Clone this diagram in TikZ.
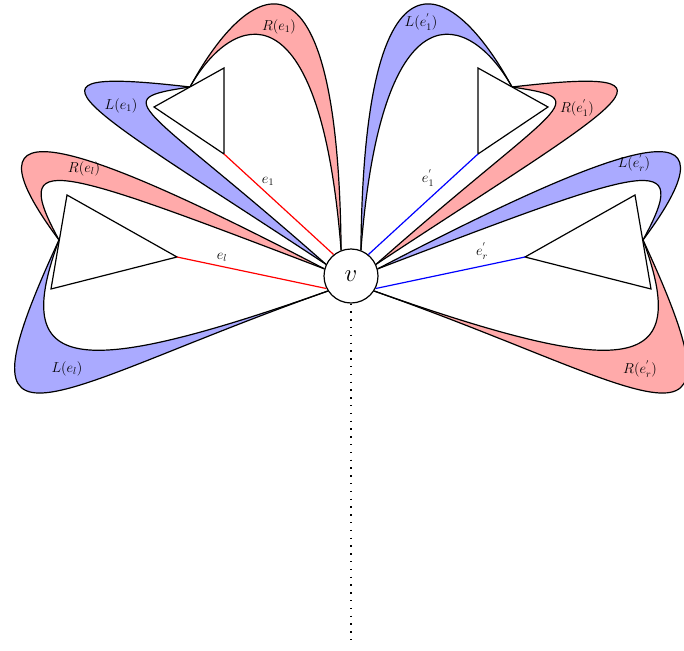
\documentclass[tikz,border=0pt]{standalone}
\usetikzlibrary{backgrounds}
\definecolor{redband}{RGB}{255,170,170}
\definecolor{blueband}{RGB}{170,170,255}
\tikzset{
 curve/.style={line width=1.2pt, line join=round},
 tri/.style={line width=1.2pt, line join=miter, fill=white},
 redfill/.style={fill=redband},
 bluefill/.style={fill=blueband},
 redline/.style={red, line width=1.2pt},
 blueline/.style={blue, line width=1.2pt},
 dotline/.style={line width=1.4pt, dash pattern=on 1.4pt off 6.4pt},
 lbl/.style={font=\fontsize{14.4}{17}\selectfont, inner sep=0pt},
 vnode/.style={circle, draw, line width=1.2pt, fill=white, minimum size=54pt, inner sep=0pt, font=\fontsize{25}{30}\selectfont}
}
\begin{document}
\begin{tikzpicture}[x=1pt,y=-1pt]
\useasboundingbox (0,0) rectangle (684,650);
\node[vnode] (v) at (351,276) {$v$};
% meeting points and triangles
\coordinate (Ml) at (59,240);
\coordinate (M1) at (190,87);
\coordinate (Mr) at (643,240);
\coordinate (M1p) at (512,87);
\coordinate (TlA) at (67,195); \coordinate (TlB) at (177,257); \coordinate (TlC) at (51,289);
\coordinate (T1A) at (224,68); \coordinate (T1B) at (154,107); \coordinate (T1C) at (224,154);
\coordinate (TrA) at (635,195); \coordinate (TrB) at (525,257); \coordinate (TrC) at (651,289);
\coordinate (T1pA) at (478,68); \coordinate (T1pB) at (548,107); \coordinate (T1pC) at (478,154);
\coordinate (dotend) at (351,645);
\begin{pgfonlayer}{background}
% ---- left side ----
% R(e_l)
\fill[redfill] (v.165) .. controls (75,139) and (-45,100) .. (Ml) .. controls (10,150) and (50,164) .. (v.165) -- cycle;
\draw[curve] (v.165) .. controls (75,139) and (-45,100) .. (Ml);
\draw[curve] (v.165) .. controls (50,164) and (10,150) .. (Ml);
% L(e_l)
\fill[bluefill] (v.213) .. controls (48,390) and (-52,480) .. (Ml) .. controls (10,372) and (73,381) .. (v.213) -- cycle;
\draw[curve] (v.213) .. controls (48,390) and (-52,480) .. (Ml);
\draw[curve] (v.213) .. controls (73,381) and (10,372) .. (Ml);
% R(e_1)
\fill[redfill] (v.111) .. controls (338,-75) and (248,-20) .. (M1) .. controls (232,12) and (320,-20) .. (v.111) -- cycle;
\draw[curve] (v.111) .. controls (338,-75) and (248,-20) .. (M1);
\draw[curve] (v.111) .. controls (320,-20) and (232,12) .. (M1);
% L(e_1)
\fill[bluefill] (v.155) .. controls (80,102) and (0,65) .. (M1) .. controls (105,100) and (140,100) .. (v.155) -- cycle;
\draw[curve] (v.155) .. controls (80,102) and (0,65) .. (M1);
\draw[curve] (v.155) .. controls (140,100) and (105,100) .. (M1);
% ---- right side ----
% L(e'_r)
\fill[bluefill] (v.15) .. controls (627,139) and (747,100) .. (Mr) .. controls (692,150) and (652,164) .. (v.15) -- cycle;
\draw[curve] (v.15) .. controls (627,139) and (747,100) .. (Mr);
\draw[curve] (v.15) .. controls (652,164) and (692,150) .. (Mr);
% R(e'_r)
\fill[redfill] (v.-33) .. controls (654,390) and (754,480) .. (Mr) .. controls (692,372) and (629,381) .. (v.-33) -- cycle;
\draw[curve] (v.-33) .. controls (654,390) and (754,480) .. (Mr);
\draw[curve] (v.-33) .. controls (629,381) and (692,372) .. (Mr);
% L(e'_1)
\fill[bluefill] (v.69) .. controls (364,-75) and (454,-20) .. (M1p) .. controls (470,12) and (382,-20) .. (v.69) -- cycle;
\draw[curve] (v.69) .. controls (364,-75) and (454,-20) .. (M1p);
\draw[curve] (v.69) .. controls (382,-20) and (470,12) .. (M1p);
% R(e'_1)
\fill[redfill] (v.25) .. controls (622,102) and (702,65) .. (M1p) .. controls (597,100) and (562,100) .. (v.25) -- cycle;
\draw[curve] (v.25) .. controls (622,102) and (702,65) .. (M1p);
\draw[curve] (v.25) .. controls (562,100) and (597,100) .. (M1p);
% triangles
\draw[tri] (TlA) -- (TlB) -- (TlC) -- cycle;
\draw[tri] (T1A) -- (T1B) -- (T1C) -- cycle;
\draw[tri] (TrA) -- (TrB) -- (TrC) -- cycle;
\draw[tri] (T1pA) -- (T1pB) -- (T1pC) -- cycle;
% edges
\draw[redline] (TlB) -- (v.207);
\draw[redline] (T1C) -- (v.129);
\draw[blueline] (T1pC) -- (v.51);
\draw[blueline] (TrB) -- (v.-27);
\draw[dotline] (v.south) -- (dotend);
\end{pgfonlayer}
% labels
\node[lbl] (lRe1) at (279,27) {$R(e_1)$};
\node[lbl] (lLe1) at (121,106) {$L(e_1)$};
\node[lbl] (lRel) at (84,169) {$R(e_l)$};
\node[lbl] (lLel) at (67,369) {$L(e_l)$};
\node[lbl] (lLe1p) at (421,22) {$L(e_1^{'})$};
\node[lbl] (lRe1p) at (577,108) {$R(e_1^{'})$};
\node[lbl] (lLerp) at (634,163) {$L(e_r^{'})$};
\node[lbl] (lRerp) at (640,369) {$R(e_r^{'})$};
\node[lbl] (le1) at (268,181) {$e_1$};
\node[lbl] (lel) at (222,257) {$e_l$};
\node[lbl] (le1p) at (428,178) {$e_1^{'}$};
\node[lbl] (lerp) at (482,251) {$e_r^{'}$};
\end{tikzpicture}
\end{document}
